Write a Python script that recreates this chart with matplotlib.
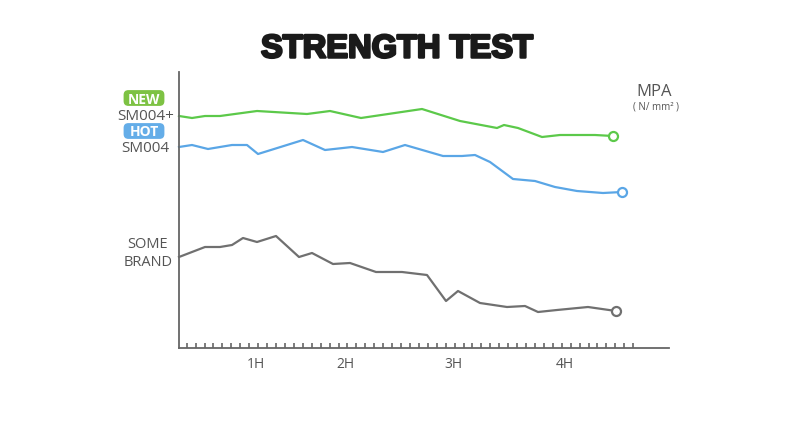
import matplotlib
matplotlib.use("Agg")
import matplotlib.pyplot as plt
import matplotlib.patheffects as pe
from matplotlib.patches import FancyBboxPatch
import numpy as np

# x: offset along the time axis, y: strength (arbitrary units)
sm004plus_x = [0, 13, 26, 41, 78, 128, 151, 182, 243, 281, 318, 325, 339, 363, 381, 416, 434]
sm004plus_y = [232, 230, 232, 232, 237, 234, 237, 230, 239, 227, 220, 223, 220, 211, 213, 213, 212]

sm004_x = [0, 13, 29, 53, 68, 79, 124, 146, 173, 204, 226, 264, 283, 296, 311, 334, 356, 376, 398, 424, 443]
sm004_y = [201, 203, 199, 203, 203, 194, 208, 198, 201, 196, 203, 192, 192, 193, 186, 169, 167, 161, 157, 155, 156]

brand_x = [0, 26, 41, 53, 64, 78, 97, 120, 133, 154, 171, 197, 223, 248, 267, 279, 301, 328, 346, 359, 378, 409, 437]
brand_y = [91, 101, 101, 103, 110, 106, 112, 91, 95, 84, 85, 76, 76, 73, 47, 57, 45, 41, 42, 36, 38, 41, 37]

hour_labels = ["1H", "2H", "3H", "4H"]
hour_pos = [77, 166, 274, 386]

GREEN = "#5cc94a"
BLUE = "#5aa6e6"
GRAY = "#707070"
TEXT = "#555555"
W, H = 800, 435

fig = plt.figure(figsize=(8, 4.35), dpi=100)
ax = fig.add_axes([179 / W, 86 / H, 490 / W, 276 / H])
ax.set_xlim(0, 490)
ax.set_ylim(0, 276)

for xs, ys, c in [(sm004plus_x, sm004plus_y, GREEN),
                  (sm004_x, sm004_y, BLUE),
                  (brand_x, brand_y, GRAY)]:
    ax.plot(xs, ys, color=c, lw=1.6, solid_joinstyle="round", clip_on=False)
    ax.plot(xs[-1], ys[-1], "o", ms=6.5, mfc="white", mec=c, mew=1.6, clip_on=False, zorder=5)

for s in ["top", "right"]:
    ax.spines[s].set_visible(False)
for s in ["left", "bottom"]:
    ax.spines[s].set_color("#666666")
    ax.spines[s].set_linewidth(1.3)

ax.set_yticks([])
ax.set_xticks(hour_pos)
ax.set_xticklabels(hour_labels, fontsize=10, color=TEXT, family="Open Sans")
ax.tick_params(axis="x", which="major", length=0, pad=6)
ax.set_xticks(7.7 + 8.93 * np.arange(51), minor=True)
ax.tick_params(axis="x", which="minor", direction="in", length=3.5, width=1.2, color="#666666")

fig.text(397 / W, 1 - 50 / H, "STRENGTH TEST", ha="center", va="center", fontsize=23.5,
         fontweight="bold", family="Liberation Sans", color="#1a1a1a",
         path_effects=[pe.withStroke(linewidth=1.8, foreground="#1a1a1a")])


def badge(x, y, txt, color):
    bw, bh = 36, 11
    fig.patches.append(FancyBboxPatch(((x - bw / 2) / W, 1 - (y + bh / 2) / H), bw / W, bh / H,
                                      boxstyle="round,pad=0.003,rounding_size=0.006",
                                      fc=color, ec="none", transform=fig.transFigure,
                                      mutation_aspect=W / H))
    fig.text(x / W, 1 - (y + 0.5) / H, txt, ha="center", va="center", fontsize=10,
             fontweight="bold", color="white", family="Open Sans")


def label(x, y, txt, size=10.5):
    fig.text(x / W, 1 - y / H, txt, ha="center", va="center", fontsize=size,
             color=TEXT, family="Open Sans")


badge(144, 99, "NEW", "#7dc243")
label(146, 117, "SM004+", 11)
badge(144, 132, "HOT", "#64ade8")
label(145, 149, "SM004", 11)
label(148, 245, "SOME", 10.5)
label(148, 263, "BRAND", 10.5)

label(654, 92, "MPA", 12)
label(656, 107, "( N/ mm\u00b2 )", 7)

fig.savefig("out.png", dpi=100)
